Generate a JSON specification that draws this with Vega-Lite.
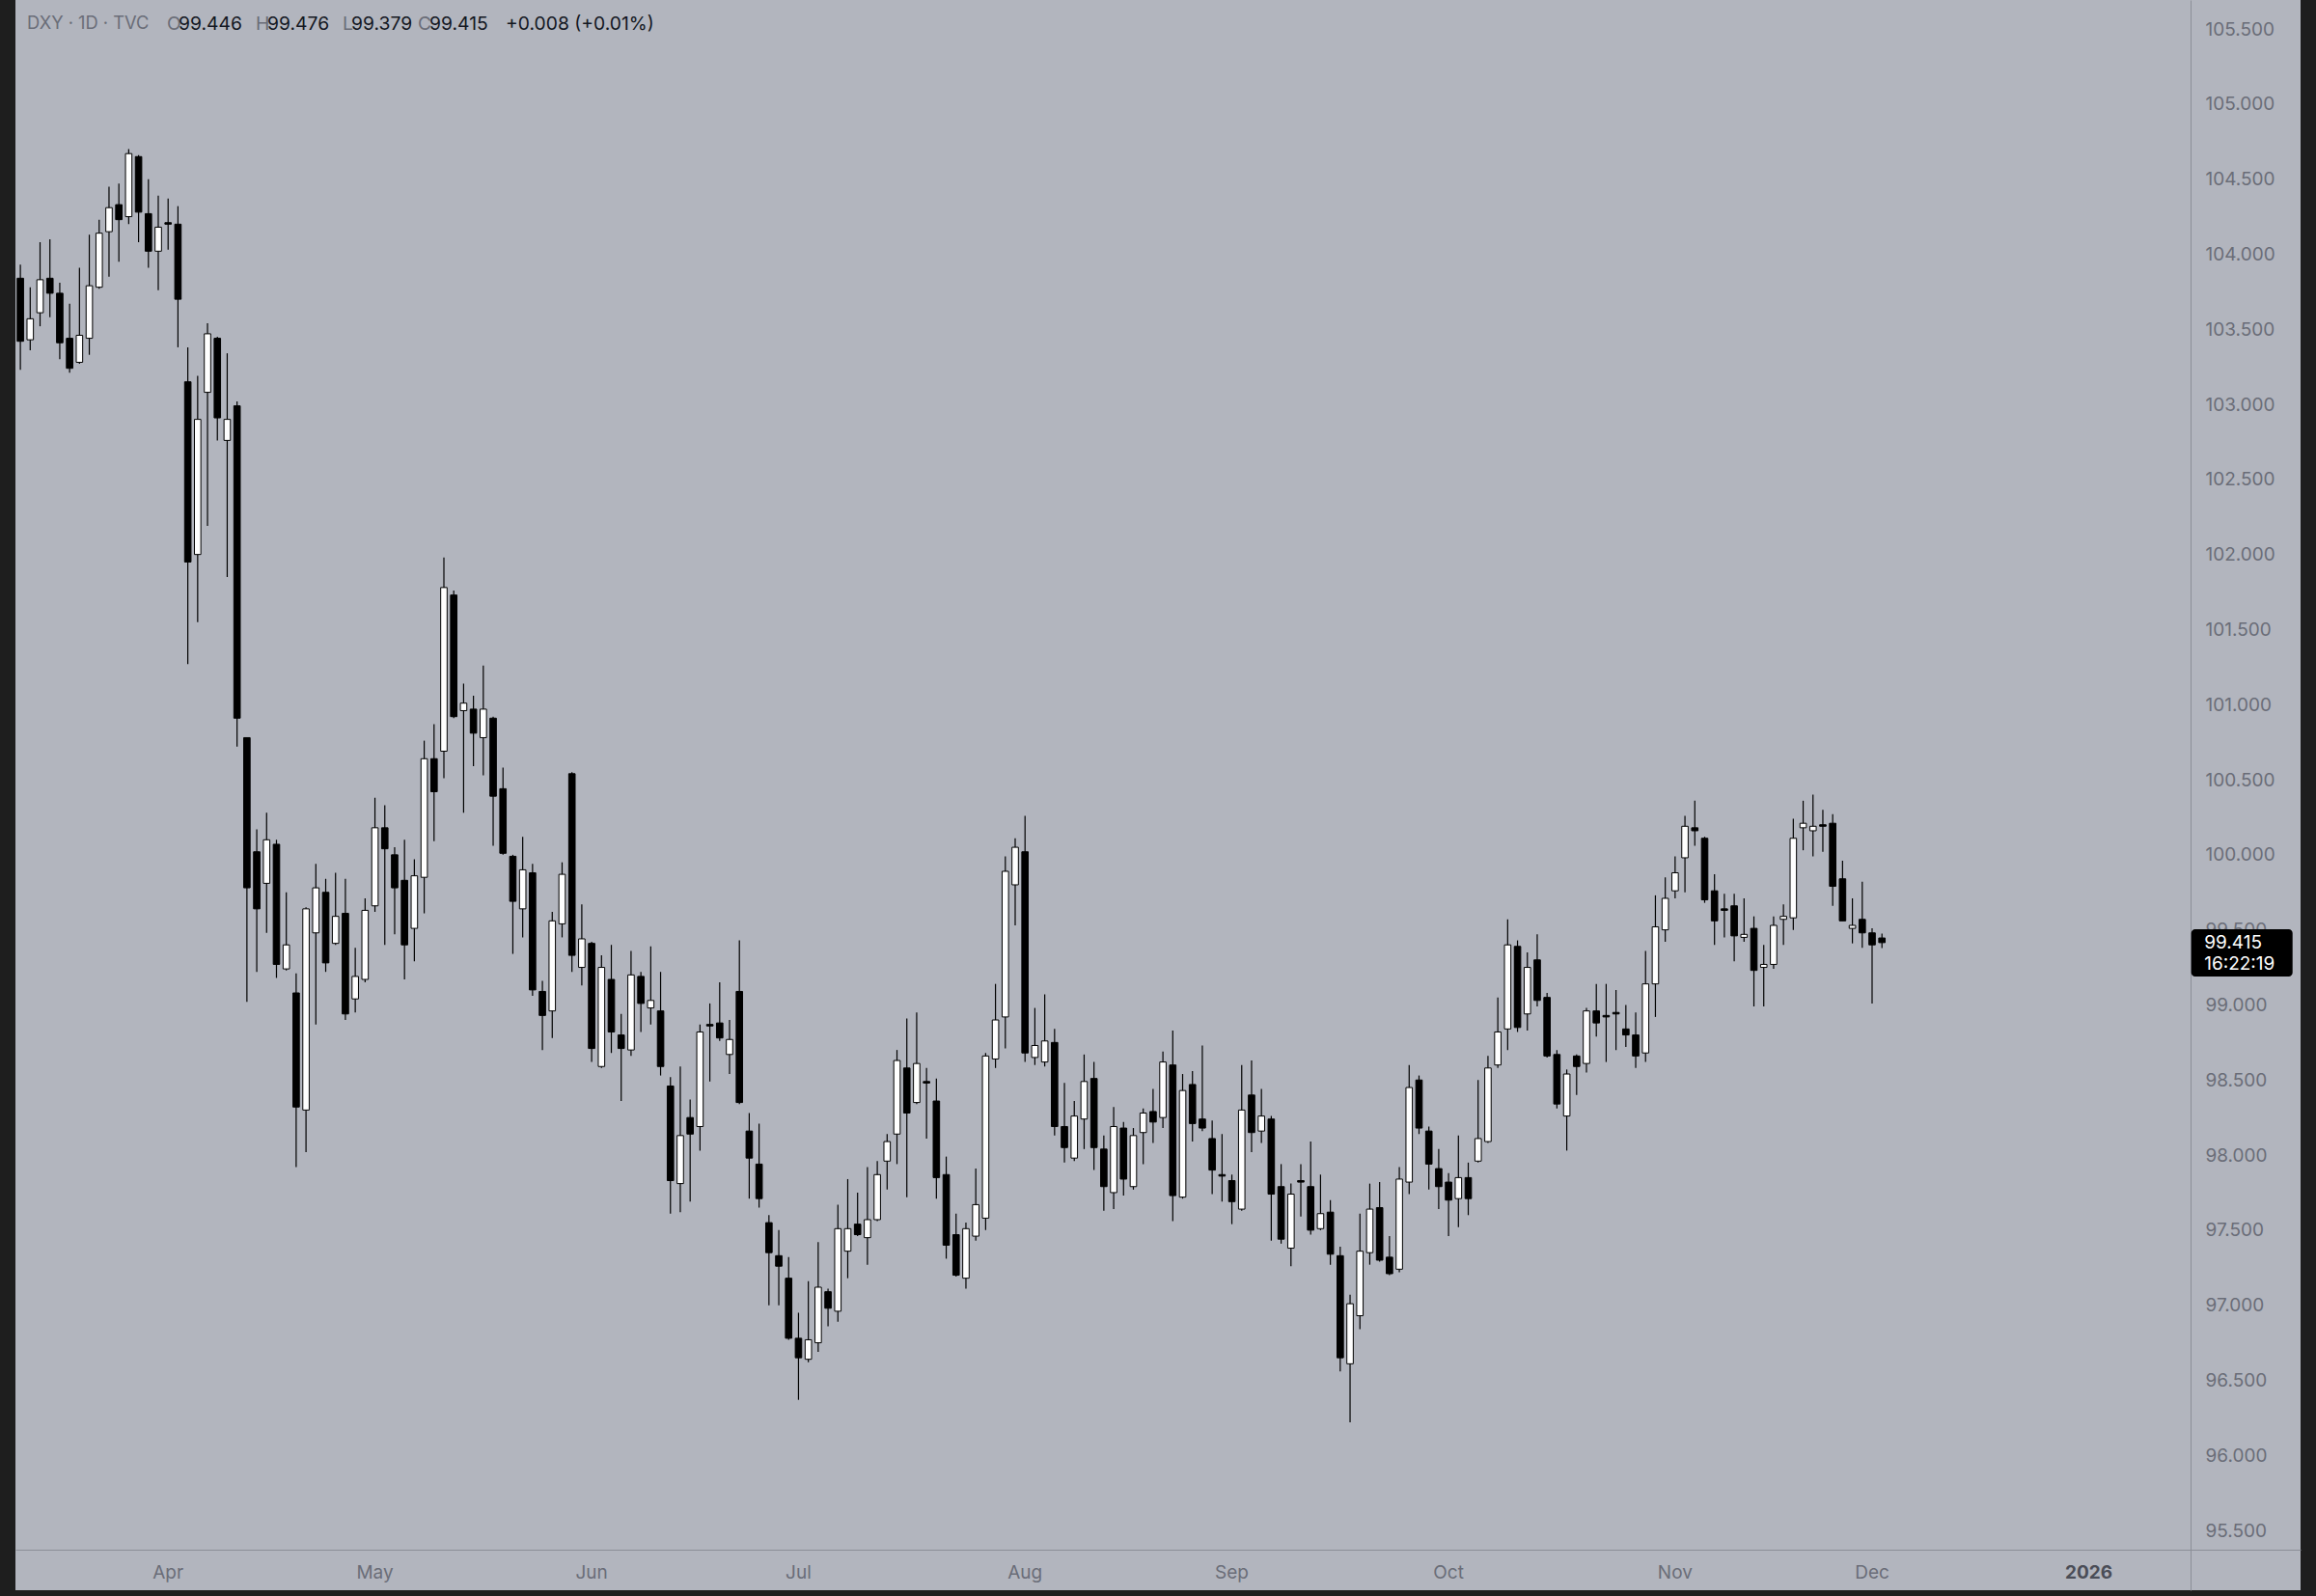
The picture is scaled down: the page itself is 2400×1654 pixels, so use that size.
{
  "$schema": "https://vega.github.io/schema/vega-lite/v6.json",
  "width": 2368,
  "height": 1648,
  "autosize": {"type": "none"},
  "padding": {"left": 16, "right": 16, "top": 0, "bottom": 6},
  "background": "#1e1e1e",
  "config": {"view": {"fill": "#b2b5be", "stroke": null}, "font": "Inter", "text": {"font": "Inter"}},
  "data": {"values": [
    {"d":"2025-03-11","o":103.84,"h":103.93,"l":103.23,"c":103.42},
    {"d":"2025-03-12","o":103.43,"h":103.78,"l":103.36,"c":103.57},
    {"d":"2025-03-13","o":103.61,"h":104.08,"l":103.52,"c":103.83},
    {"d":"2025-03-14","o":103.84,"h":104.10,"l":103.58,"c":103.74},
    {"d":"2025-03-17","o":103.74,"h":103.81,"l":103.30,"c":103.41},
    {"d":"2025-03-18","o":103.44,"h":103.67,"l":103.21,"c":103.24},
    {"d":"2025-03-19","o":103.28,"h":103.91,"l":103.27,"c":103.46},
    {"d":"2025-03-20","o":103.44,"h":104.13,"l":103.33,"c":103.79},
    {"d":"2025-03-21","o":103.78,"h":104.23,"l":103.77,"c":104.14},
    {"d":"2025-03-24","o":104.15,"h":104.45,"l":103.85,"c":104.31},
    {"d":"2025-03-25","o":104.33,"h":104.47,"l":103.95,"c":104.23},
    {"d":"2025-03-26","o":104.25,"h":104.70,"l":104.20,"c":104.67},
    {"d":"2025-03-27","o":104.65,"h":104.66,"l":104.08,"c":104.28},
    {"d":"2025-03-28","o":104.27,"h":104.50,"l":103.91,"c":104.02},
    {"d":"2025-03-31","o":104.02,"h":104.39,"l":103.76,"c":104.18},
    {"d":"2025-04-01","o":104.21,"h":104.37,"l":104.03,"c":104.20},
    {"d":"2025-04-02","o":104.20,"h":104.32,"l":103.38,"c":103.70},
    {"d":"2025-04-03","o":103.15,"h":103.38,"l":101.27,"c":101.95},
    {"d":"2025-04-04","o":102.00,"h":103.19,"l":101.55,"c":102.90},
    {"d":"2025-04-07","o":103.08,"h":103.54,"l":102.19,"c":103.47},
    {"d":"2025-04-08","o":103.44,"h":103.45,"l":102.76,"c":102.91},
    {"d":"2025-04-09","o":102.76,"h":103.34,"l":101.85,"c":102.90},
    {"d":"2025-04-10","o":102.99,"h":103.02,"l":100.72,"c":100.91},
    {"d":"2025-04-11","o":100.78,"h":100.78,"l":99.02,"c":99.78},
    {"d":"2025-04-14","o":100.02,"h":100.17,"l":99.22,"c":99.64},
    {"d":"2025-04-15","o":99.81,"h":100.28,"l":99.48,"c":100.10},
    {"d":"2025-04-16","o":100.07,"h":100.10,"l":99.18,"c":99.27},
    {"d":"2025-04-17","o":99.24,"h":99.75,"l":99.23,"c":99.40},
    {"d":"2025-04-21","o":99.08,"h":99.21,"l":97.92,"c":98.32},
    {"d":"2025-04-22","o":98.30,"h":99.65,"l":98.02,"c":99.64},
    {"d":"2025-04-23","o":99.48,"h":99.94,"l":98.87,"c":99.78},
    {"d":"2025-04-24","o":99.75,"h":99.84,"l":99.22,"c":99.28},
    {"d":"2025-04-25","o":99.41,"h":99.88,"l":99.40,"c":99.59},
    {"d":"2025-04-28","o":99.61,"h":99.84,"l":98.90,"c":98.94},
    {"d":"2025-04-29","o":99.04,"h":99.38,"l":98.95,"c":99.19},
    {"d":"2025-04-30","o":99.17,"h":99.71,"l":99.15,"c":99.63},
    {"d":"2025-05-01","o":99.66,"h":100.38,"l":99.62,"c":100.18},
    {"d":"2025-05-02","o":100.18,"h":100.33,"l":99.40,"c":100.04},
    {"d":"2025-05-05","o":100.00,"h":100.05,"l":99.47,"c":99.78},
    {"d":"2025-05-06","o":99.83,"h":100.10,"l":99.17,"c":99.40},
    {"d":"2025-05-07","o":99.51,"h":99.97,"l":99.29,"c":99.86},
    {"d":"2025-05-08","o":99.85,"h":100.76,"l":99.61,"c":100.64},
    {"d":"2025-05-09","o":100.64,"h":100.87,"l":100.09,"c":100.42},
    {"d":"2025-05-12","o":100.69,"h":101.98,"l":100.51,"c":101.78},
    {"d":"2025-05-13","o":101.73,"h":101.76,"l":100.91,"c":100.92},
    {"d":"2025-05-14","o":100.96,"h":101.14,"l":100.28,"c":101.01},
    {"d":"2025-05-15","o":100.97,"h":101.06,"l":100.59,"c":100.81},
    {"d":"2025-05-16","o":100.78,"h":101.26,"l":100.53,"c":100.97},
    {"d":"2025-05-19","o":100.91,"h":100.92,"l":100.06,"c":100.39},
    {"d":"2025-05-20","o":100.44,"h":100.58,"l":100.00,"c":100.01},
    {"d":"2025-05-21","o":99.99,"h":100.00,"l":99.34,"c":99.69},
    {"d":"2025-05-22","o":99.64,"h":100.12,"l":99.45,"c":99.90},
    {"d":"2025-05-23","o":99.88,"h":99.94,"l":99.06,"c":99.10},
    {"d":"2025-05-26","o":99.09,"h":99.16,"l":98.70,"c":98.93},
    {"d":"2025-05-27","o":98.96,"h":99.62,"l":98.78,"c":99.56},
    {"d":"2025-05-28","o":99.54,"h":99.95,"l":99.45,"c":99.87},
    {"d":"2025-05-29","o":100.54,"h":100.55,"l":99.22,"c":99.33},
    {"d":"2025-05-30","o":99.25,"h":99.67,"l":99.13,"c":99.44},
    {"d":"2025-06-02","o":99.41,"h":99.42,"l":98.62,"c":98.71},
    {"d":"2025-06-03","o":98.59,"h":99.33,"l":98.58,"c":99.25},
    {"d":"2025-06-04","o":99.17,"h":99.40,"l":98.68,"c":98.82},
    {"d":"2025-06-05","o":98.80,"h":98.94,"l":98.36,"c":98.71},
    {"d":"2025-06-06","o":98.70,"h":99.36,"l":98.66,"c":99.20},
    {"d":"2025-06-09","o":99.19,"h":99.22,"l":98.82,"c":99.01},
    {"d":"2025-06-10","o":98.98,"h":99.39,"l":98.87,"c":99.03},
    {"d":"2025-06-11","o":98.96,"h":99.22,"l":98.53,"c":98.59},
    {"d":"2025-06-12","o":98.46,"h":98.52,"l":97.61,"c":97.83},
    {"d":"2025-06-13","o":97.81,"h":98.59,"l":97.62,"c":98.13},
    {"d":"2025-06-16","o":98.25,"h":98.37,"l":97.69,"c":98.14},
    {"d":"2025-06-17","o":98.19,"h":98.87,"l":98.03,"c":98.82},
    {"d":"2025-06-18","o":98.87,"h":99.01,"l":98.49,"c":98.86},
    {"d":"2025-06-19","o":98.88,"h":99.15,"l":98.76,"c":98.78},
    {"d":"2025-06-20","o":98.67,"h":98.90,"l":98.54,"c":98.77},
    {"d":"2025-06-23","o":99.09,"h":99.43,"l":98.34,"c":98.35},
    {"d":"2025-06-24","o":98.16,"h":98.28,"l":97.71,"c":97.98},
    {"d":"2025-06-25","o":97.94,"h":98.21,"l":97.65,"c":97.71},
    {"d":"2025-06-26","o":97.55,"h":97.60,"l":97.00,"c":97.35},
    {"d":"2025-06-27","o":97.33,"h":97.50,"l":97.00,"c":97.26},
    {"d":"2025-06-30","o":97.18,"h":97.32,"l":96.77,"c":96.78},
    {"d":"2025-07-01","o":96.78,"h":96.95,"l":96.37,"c":96.65},
    {"d":"2025-07-02","o":96.64,"h":97.16,"l":96.62,"c":96.77},
    {"d":"2025-07-03","o":96.75,"h":97.42,"l":96.69,"c":97.12},
    {"d":"2025-07-04","o":97.09,"h":97.11,"l":96.86,"c":96.98},
    {"d":"2025-07-07","o":96.96,"h":97.67,"l":96.89,"c":97.51},
    {"d":"2025-07-08","o":97.36,"h":97.84,"l":97.18,"c":97.51},
    {"d":"2025-07-09","o":97.54,"h":97.75,"l":97.46,"c":97.47},
    {"d":"2025-07-10","o":97.45,"h":97.92,"l":97.27,"c":97.57},
    {"d":"2025-07-11","o":97.57,"h":97.96,"l":97.56,"c":97.87},
    {"d":"2025-07-14","o":97.96,"h":98.14,"l":97.77,"c":98.09},
    {"d":"2025-07-15","o":98.14,"h":98.70,"l":97.94,"c":98.63},
    {"d":"2025-07-16","o":98.58,"h":98.91,"l":97.72,"c":98.28},
    {"d":"2025-07-17","o":98.35,"h":98.95,"l":98.34,"c":98.61},
    {"d":"2025-07-18","o":98.49,"h":98.58,"l":98.11,"c":98.48},
    {"d":"2025-07-21","o":98.36,"h":98.51,"l":97.71,"c":97.85},
    {"d":"2025-07-22","o":97.87,"h":97.99,"l":97.31,"c":97.40},
    {"d":"2025-07-23","o":97.47,"h":97.61,"l":97.19,"c":97.20},
    {"d":"2025-07-24","o":97.18,"h":97.55,"l":97.11,"c":97.51},
    {"d":"2025-07-25","o":97.46,"h":97.91,"l":97.43,"c":97.67},
    {"d":"2025-07-28","o":97.58,"h":98.68,"l":97.50,"c":98.66},
    {"d":"2025-07-29","o":98.64,"h":99.14,"l":98.58,"c":98.90},
    {"d":"2025-07-30","o":98.92,"h":99.99,"l":98.71,"c":99.89},
    {"d":"2025-07-31","o":99.80,"h":100.11,"l":99.53,"c":100.05},
    {"d":"2025-08-01","o":100.02,"h":100.26,"l":98.62,"c":98.68},
    {"d":"2025-08-04","o":98.65,"h":98.98,"l":98.60,"c":98.73},
    {"d":"2025-08-05","o":98.62,"h":99.07,"l":98.59,"c":98.76},
    {"d":"2025-08-06","o":98.75,"h":98.84,"l":98.13,"c":98.19},
    {"d":"2025-08-07","o":98.19,"h":98.48,"l":97.95,"c":98.05},
    {"d":"2025-08-08","o":97.98,"h":98.36,"l":97.96,"c":98.26},
    {"d":"2025-08-11","o":98.24,"h":98.67,"l":98.04,"c":98.49},
    {"d":"2025-08-12","o":98.51,"h":98.62,"l":97.90,"c":98.05},
    {"d":"2025-08-13","o":98.04,"h":98.13,"l":97.63,"c":97.79},
    {"d":"2025-08-14","o":97.75,"h":98.32,"l":97.64,"c":98.19},
    {"d":"2025-08-15","o":98.18,"h":98.22,"l":97.73,"c":97.84},
    {"d":"2025-08-18","o":97.79,"h":98.18,"l":97.77,"c":98.13},
    {"d":"2025-08-19","o":98.15,"h":98.31,"l":97.94,"c":98.28},
    {"d":"2025-08-20","o":98.29,"h":98.44,"l":98.08,"c":98.22},
    {"d":"2025-08-21","o":98.25,"h":98.69,"l":98.18,"c":98.62},
    {"d":"2025-08-22","o":98.60,"h":98.83,"l":97.56,"c":97.73},
    {"d":"2025-08-25","o":97.72,"h":98.54,"l":97.71,"c":98.43},
    {"d":"2025-08-26","o":98.47,"h":98.56,"l":98.09,"c":98.21},
    {"d":"2025-08-27","o":98.24,"h":98.73,"l":98.16,"c":98.18},
    {"d":"2025-08-28","o":98.11,"h":98.23,"l":97.74,"c":97.90},
    {"d":"2025-08-29","o":97.87,"h":98.14,"l":97.69,"c":97.86},
    {"d":"2025-09-01","o":97.83,"h":97.87,"l":97.54,"c":97.69},
    {"d":"2025-09-02","o":97.64,"h":98.60,"l":97.63,"c":98.30},
    {"d":"2025-09-03","o":98.40,"h":98.63,"l":98.02,"c":98.15},
    {"d":"2025-09-04","o":98.16,"h":98.44,"l":98.08,"c":98.26},
    {"d":"2025-09-05","o":98.24,"h":98.26,"l":97.43,"c":97.74},
    {"d":"2025-09-08","o":97.79,"h":97.94,"l":97.41,"c":97.44},
    {"d":"2025-09-09","o":97.38,"h":97.81,"l":97.26,"c":97.74},
    {"d":"2025-09-10","o":97.83,"h":97.94,"l":97.59,"c":97.82},
    {"d":"2025-09-11","o":97.79,"h":98.09,"l":97.47,"c":97.50},
    {"d":"2025-09-12","o":97.51,"h":97.87,"l":97.50,"c":97.61},
    {"d":"2025-09-15","o":97.62,"h":97.70,"l":97.27,"c":97.34},
    {"d":"2025-09-16","o":97.33,"h":97.39,"l":96.56,"c":96.65},
    {"d":"2025-09-17","o":96.61,"h":97.07,"l":96.22,"c":97.01},
    {"d":"2025-09-18","o":96.93,"h":97.61,"l":96.84,"c":97.36},
    {"d":"2025-09-19","o":97.35,"h":97.81,"l":97.27,"c":97.64},
    {"d":"2025-09-22","o":97.65,"h":97.82,"l":97.29,"c":97.30},
    {"d":"2025-09-23","o":97.32,"h":97.46,"l":97.20,"c":97.21},
    {"d":"2025-09-24","o":97.24,"h":97.92,"l":97.22,"c":97.84},
    {"d":"2025-09-25","o":97.82,"h":98.60,"l":97.74,"c":98.45},
    {"d":"2025-09-26","o":98.50,"h":98.53,"l":98.14,"c":98.18},
    {"d":"2025-09-29","o":98.16,"h":98.19,"l":97.77,"c":97.94},
    {"d":"2025-09-30","o":97.91,"h":98.04,"l":97.64,"c":97.79},
    {"d":"2025-10-01","o":97.82,"h":97.88,"l":97.46,"c":97.70},
    {"d":"2025-10-02","o":97.71,"h":98.13,"l":97.52,"c":97.85},
    {"d":"2025-10-03","o":97.85,"h":97.95,"l":97.60,"c":97.71},
    {"d":"2025-10-06","o":97.96,"h":98.50,"l":97.95,"c":98.11},
    {"d":"2025-10-07","o":98.09,"h":98.66,"l":98.08,"c":98.58},
    {"d":"2025-10-08","o":98.60,"h":99.05,"l":98.58,"c":98.82},
    {"d":"2025-10-09","o":98.84,"h":99.57,"l":98.70,"c":99.40},
    {"d":"2025-10-10","o":99.39,"h":99.43,"l":98.82,"c":98.85},
    {"d":"2025-10-13","o":98.94,"h":99.35,"l":98.83,"c":99.25},
    {"d":"2025-10-14","o":99.30,"h":99.47,"l":98.99,"c":99.03},
    {"d":"2025-10-15","o":99.05,"h":99.08,"l":98.65,"c":98.66},
    {"d":"2025-10-16","o":98.67,"h":98.70,"l":98.31,"c":98.34},
    {"d":"2025-10-17","o":98.26,"h":98.57,"l":98.03,"c":98.54},
    {"d":"2025-10-20","o":98.66,"h":98.67,"l":98.40,"c":98.59},
    {"d":"2025-10-21","o":98.61,"h":98.98,"l":98.55,"c":98.96},
    {"d":"2025-10-22","o":98.96,"h":99.14,"l":98.79,"c":98.88},
    {"d":"2025-10-23","o":98.93,"h":99.14,"l":98.62,"c":98.92},
    {"d":"2025-10-24","o":98.95,"h":99.10,"l":98.70,"c":98.94},
    {"d":"2025-10-27","o":98.84,"h":99.00,"l":98.72,"c":98.80},
    {"d":"2025-10-28","o":98.80,"h":98.95,"l":98.58,"c":98.66},
    {"d":"2025-10-29","o":98.68,"h":99.36,"l":98.62,"c":99.14},
    {"d":"2025-10-30","o":99.14,"h":99.73,"l":98.92,"c":99.52},
    {"d":"2025-10-31","o":99.50,"h":99.85,"l":99.42,"c":99.71},
    {"d":"2025-11-03","o":99.76,"h":99.99,"l":99.71,"c":99.88},
    {"d":"2025-11-04","o":99.98,"h":100.26,"l":99.75,"c":100.19},
    {"d":"2025-11-05","o":100.18,"h":100.36,"l":100.06,"c":100.16},
    {"d":"2025-11-06","o":100.11,"h":100.12,"l":99.68,"c":99.70},
    {"d":"2025-11-07","o":99.76,"h":99.87,"l":99.40,"c":99.56},
    {"d":"2025-11-10","o":99.64,"h":99.74,"l":99.45,"c":99.63},
    {"d":"2025-11-11","o":99.66,"h":99.74,"l":99.29,"c":99.46},
    {"d":"2025-11-12","o":99.45,"h":99.71,"l":99.42,"c":99.47},
    {"d":"2025-11-13","o":99.51,"h":99.59,"l":98.99,"c":99.23},
    {"d":"2025-11-14","o":99.25,"h":99.40,"l":98.99,"c":99.27},
    {"d":"2025-11-17","o":99.27,"h":99.59,"l":99.24,"c":99.53},
    {"d":"2025-11-18","o":99.57,"h":99.67,"l":99.40,"c":99.59},
    {"d":"2025-11-19","o":99.58,"h":100.24,"l":99.50,"c":100.11},
    {"d":"2025-11-20","o":100.18,"h":100.36,"l":100.03,"c":100.21},
    {"d":"2025-11-21","o":100.16,"h":100.40,"l":99.99,"c":100.19},
    {"d":"2025-11-24","o":100.20,"h":100.30,"l":100.02,"c":100.19},
    {"d":"2025-11-25","o":100.21,"h":100.27,"l":99.66,"c":99.79},
    {"d":"2025-11-26","o":99.84,"h":99.96,"l":99.56,"c":99.56},
    {"d":"2025-11-27","o":99.51,"h":99.71,"l":99.41,"c":99.53},
    {"d":"2025-11-28","o":99.57,"h":99.82,"l":99.38,"c":99.48},
    {"d":"2025-12-01","o":99.48,"h":99.51,"l":99.01,"c":99.40},
    {"d":"2025-12-02","o":99.446,"h":99.476,"l":99.379,"c":99.415}
  ]},
  "encoding": {
    "x": {
      "field": "d", "type": "ordinal", "title": null,
      "scale": {
        "paddingInner": 0.35, "paddingOuter": 0.175,
        "domain": {"unionWith": ["2025-12-03","2025-12-04","2025-12-05","2025-12-08","2025-12-09","2025-12-10","2025-12-11","2025-12-12","2025-12-15","2025-12-16","2025-12-17","2025-12-18","2025-12-19","2025-12-22","2025-12-23","2025-12-24","2025-12-26","2025-12-29","2025-12-30","2025-12-31","2026-01-02","2026-01-05","2026-01-06","2026-01-07","2026-01-08","2026-01-09","2026-01-12","2026-01-13","2026-01-14","2026-01-15","2026-01-16","2026-01-19","2026-01-20","2026-01-21","2026-01-22","2026-01-23","2026-01-26","2026-01-27","2026-01-28","2026-01-29","2026-01-30","2026-02-02"]}
      },
      "axis": {
        "orient": "bottom", "offset": -42,
        "values": ["2025-04-01","2025-05-01","2025-06-02","2025-07-01","2025-08-01","2025-09-01","2025-10-01","2025-11-03","2025-12-01","2026-01-02"],
        "labelExpr": "['Apr','May','Jun','Jul','Aug','Sep','Oct','Nov','Dec','2026'][indexof(['2025-04-01','2025-05-01','2025-06-02','2025-07-01','2025-08-01','2025-09-01','2025-10-01','2025-11-03','2025-12-01','2026-01-02'], datum.value)]",
        "labelAngle": 0, "labelBaseline": "middle", "labelPadding": 23,
        "labelFont": "Inter", "labelFontSize": 19,
        "labelColor": {"condition": {"test": "datum.value == '2026-01-02'", "value": "#4a4d57"}, "value": "#6a6d78"},
        "labelFontWeight": {"condition": {"test": "datum.value == '2026-01-02'", "value": "bold"}, "value": "normal"},
        "labelOverlap": false, "labelFlush": false, "labelBound": false,
        "ticks": false, "grid": false,
        "domain": true, "domainColor": "#8b8e97", "domainWidth": 1
      }
    },
    "y": {
      "field": "l", "type": "quantitative", "title": null,
      "scale": {"domain": [95.102, 105.693], "nice": false, "zero": false},
      "axis": {
        "orient": "right", "offset": -114,
        "values": [95.5, 96, 96.5, 97, 97.5, 98, 98.5, 99, 99.5, 100, 100.5, 101, 101.5, 102, 102.5, 103, 103.5, 104, 104.5, 105, 105.5],
        "format": ".3f",
        "labelAlign": "left", "labelPadding": 15,
        "labelFont": "Inter", "labelFontSize": 19, "labelColor": "#6a6d78",
        "ticks": false, "grid": false,
        "domain": true, "domainColor": "#8b8e97", "domainWidth": 1,
        "labelOverlap": false, "labelBound": false, "labelFlush": false
      }
    }
  },
  "layer": [
    {
      "mark": {"type": "rule", "color": "#000000", "strokeWidth": 1.2},
      "encoding": {"y2": {"field": "h"}}
    },
    {
      "mark": {"type": "bar", "stroke": "#000000", "strokeWidth": 1},
      "encoding": {
        "y": {"field": "o", "type": "quantitative"},
        "y2": {"field": "c"},
        "fill": {"condition": {"test": "datum.c > datum.o", "value": "#ffffff"}, "value": "#000000"}
      }
    },
    {
      "transform": [{"filter": "datum.d == '2025-12-02'"}],
      "mark": {"type": "bar", "color": "#000000", "width": 105, "cornerRadius": 4, "xOffset": 373},
      "encoding": {
        "y": {"datum": 99.504, "type": "quantitative"},
        "y2": {"datum": 99.189}
      }
    },
    {
      "transform": [{"filter": "datum.d == '2025-12-02'"}],
      "mark": {"type": "text", "align": "left", "baseline": "middle", "dx": 334, "fontSize": 19, "color": "#ffffff"},
      "encoding": {
        "y": {"field": "c", "type": "quantitative"},
        "text": {"field": "c", "type": "quantitative", "format": ".3f"}
      }
    },
    {
      "transform": [{"filter": "datum.d == '2025-12-02'"}],
      "mark": {"type": "text", "text": "16:22:19", "align": "left", "baseline": "middle", "dx": 334, "dy": 22, "fontSize": 19, "color": "#ffffff"},
      "encoding": {
        "y": {"field": "c", "type": "quantitative"}
      }
    },
    {
      "transform": [{"filter": "datum.d == '2025-03-11'"}],
      "mark": {"type": "text", "text": "DXY · 1D · TVC", "align": "left", "baseline": "middle", "dx": 7, "fontSize": 18.3, "color": "#6a6d78"},
      "encoding": {"y": {"datum": 105.532, "type": "quantitative"}}
    },
    {
      "transform": [{"filter": "datum.d == '2025-03-11'"}],
      "mark": {"type": "text", "text": "O", "align": "left", "baseline": "middle", "dx": 152, "fontSize": 19.3, "color": "#6a6d78"},
      "encoding": {"y": {"datum": 105.532, "type": "quantitative"}}
    },
    {
      "transform": [{"filter": "datum.d == '2025-03-11'"}],
      "mark": {"type": "text", "text": "99.446", "align": "left", "baseline": "middle", "dx": 164, "fontSize": 19.3, "color": "#131722"},
      "encoding": {"y": {"datum": 105.532, "type": "quantitative"}}
    },
    {
      "transform": [{"filter": "datum.d == '2025-03-11'"}],
      "mark": {"type": "text", "text": "H", "align": "left", "baseline": "middle", "dx": 244, "fontSize": 19.3, "color": "#6a6d78"},
      "encoding": {"y": {"datum": 105.532, "type": "quantitative"}}
    },
    {
      "transform": [{"filter": "datum.d == '2025-03-11'"}],
      "mark": {"type": "text", "text": "99.476", "align": "left", "baseline": "middle", "dx": 256, "fontSize": 19.3, "color": "#131722"},
      "encoding": {"y": {"datum": 105.532, "type": "quantitative"}}
    },
    {
      "transform": [{"filter": "datum.d == '2025-03-11'"}],
      "mark": {"type": "text", "text": "L", "align": "left", "baseline": "middle", "dx": 334, "fontSize": 19.3, "color": "#6a6d78"},
      "encoding": {"y": {"datum": 105.532, "type": "quantitative"}}
    },
    {
      "transform": [{"filter": "datum.d == '2025-03-11'"}],
      "mark": {"type": "text", "text": "99.379", "align": "left", "baseline": "middle", "dx": 343, "fontSize": 19.3, "color": "#131722"},
      "encoding": {"y": {"datum": 105.532, "type": "quantitative"}}
    },
    {
      "transform": [{"filter": "datum.d == '2025-03-11'"}],
      "mark": {"type": "text", "text": "C", "align": "left", "baseline": "middle", "dx": 412, "fontSize": 19.3, "color": "#6a6d78"},
      "encoding": {"y": {"datum": 105.532, "type": "quantitative"}}
    },
    {
      "transform": [{"filter": "datum.d == '2025-03-11'"}],
      "mark": {"type": "text", "text": "99.415", "align": "left", "baseline": "middle", "dx": 424, "fontSize": 19.3, "color": "#131722"},
      "encoding": {"y": {"datum": 105.532, "type": "quantitative"}}
    },
    {
      "transform": [{"filter": "datum.d == '2025-03-11'"}],
      "mark": {"type": "text", "text": "+0.008 (+0.01%)", "align": "left", "baseline": "middle", "dx": 503, "fontSize": 19.3, "color": "#131722"},
      "encoding": {"y": {"datum": 105.532, "type": "quantitative"}}
    }
  ]
}
